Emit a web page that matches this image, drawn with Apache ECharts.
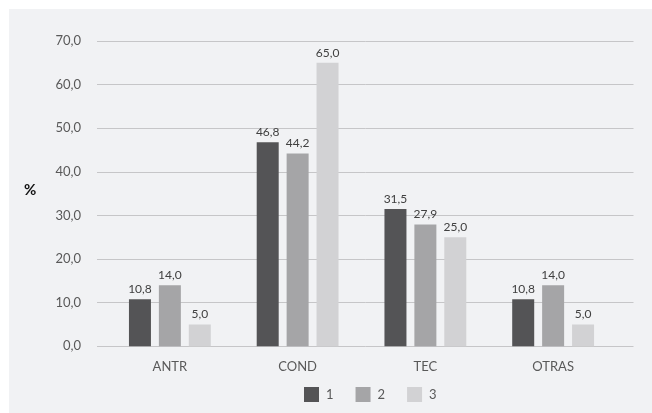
<!DOCTYPE html>
<html>
<head>
<meta charset="utf-8">
<script src="https://cdn.jsdelivr.net/npm/echarts@6/dist/echarts.min.js"></script>
<style>
html,body{margin:0;padding:0;background:#ffffff;}
#bg{position:absolute;left:9px;top:9px;width:643px;height:404px;background:#f1f2f4;}
#main{position:absolute;left:0;top:0;width:652px;height:413px;}
</style>
</head>
<body>
<div id="bg"></div>
<div id="main"></div>
<script>
const categories = ['ANTR', 'COND', 'TEC', 'OTRAS'];
const seriesNames = ['1', '2', '3'];
const series1 = [10.8, 46.8, 31.5, 10.8];
const series2 = [14.0, 44.2, 27.9, 14.0];
const series3 = [5.0, 65.0, 25.0, 5.0];
const colors = ['#545456', '#a5a5a7', '#d2d2d4'];

const fmt = v => Number(v).toFixed(1).replace('.', ',');
const chart = echarts.init(document.getElementById('main'));
const font = 'Lato, "Open Sans", sans-serif';
const mk = (name, data, i) => ({
  name: name, type: 'bar', data: data, xAxisIndex: 1, yAxisIndex: 1,
  barWidth: 22, barGap: '36%',
  itemStyle: {color: colors[i]},
  label: {show: true, position: 'top', distance: 4, fontFamily: font, fontSize: 12, color: '#404040',
    formatter: p => fmt(p.value)}
});
chart.setOption({
  animation: false,
  backgroundColor: 'transparent',
  textStyle: {fontFamily: font},
  grid: [
    {left: 97, right: 18.5, top: 41, bottom: 66.7},
    {left: 106, right: 35, top: 41, bottom: 66.7}
  ],
  xAxis: [
    {type: 'value', gridIndex: 0, show: false, min: 0, max: 1},
    {type: 'category', gridIndex: 1, data: categories,
      axisLine: {show: false}, axisTick: {show: false},
      axisLabel: {margin: 14, fontSize: 13, color: '#595959', fontFamily: font}}
  ],
  yAxis: [
    {type: 'value', gridIndex: 0, min: 0, max: 70, interval: 10,
      axisLine: {show: false}, axisTick: {show: false},
      axisLabel: {margin: 16, fontSize: 13, color: '#595959', fontFamily: font, formatter: v => fmt(v)},
      splitLine: {lineStyle: {color: '#c6c6c8', width: 1}}},
    {type: 'value', gridIndex: 1, min: 0, max: 70, interval: 10, show: false, splitLine: {show: false}}
  ],
  legend: {
    top: 382, left: 299, itemWidth: 15, itemHeight: 15, itemGap: 22,
    icon: 'rect',
    textStyle: {fontSize: 13, color: '#595959', fontFamily: font, padding: [0, 0, 0, 2]},
    data: seriesNames
  },
  graphic: [
    {type: 'text', left: 24, top: 183, style: {text: '%', fontSize: 15, fontWeight: 'bold', fill: '#111', fontFamily: font}}
  ],
  series: [mk(seriesNames[0], series1, 0), mk(seriesNames[1], series2, 1), mk(seriesNames[2], series3, 2)]
});
</script>
</body>
</html>
